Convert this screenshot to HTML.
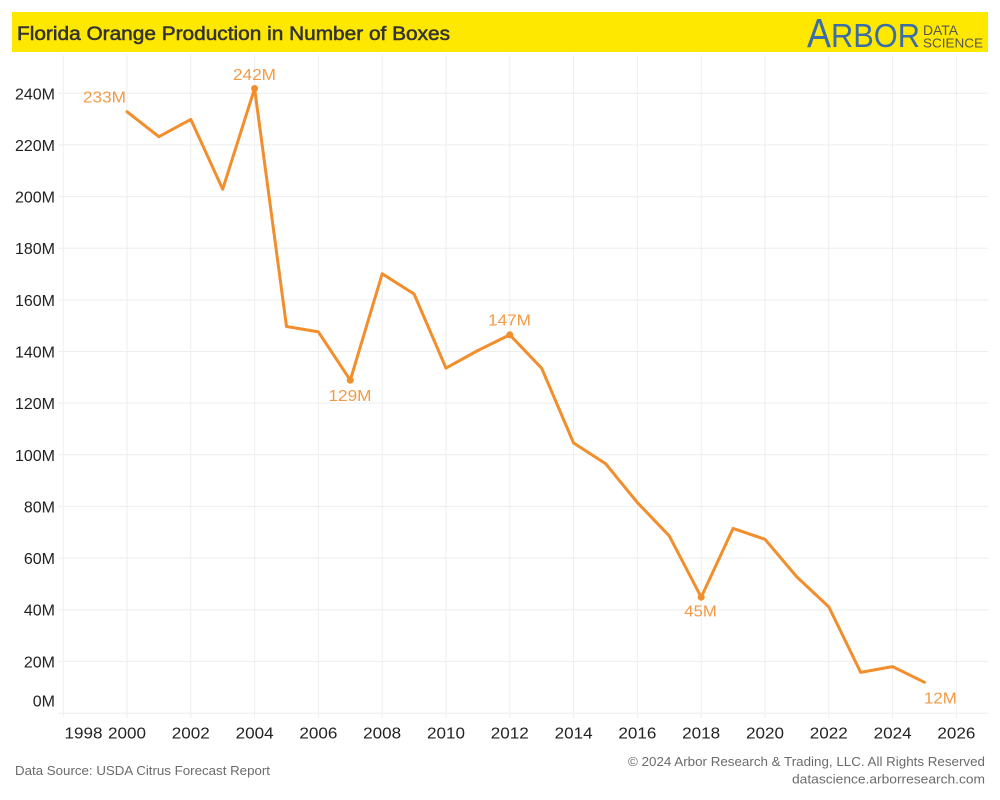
<!DOCTYPE html>
<html>
<head>
<meta charset="utf-8">
<style>
html,body{margin:0;padding:0;background:#fff;}
svg{display:block;}
text{font-family:"Liberation Sans",sans-serif;}
</style>
</head>
<body>
<svg width="1000" height="800" viewBox="0 0 1000 800" xmlns="http://www.w3.org/2000/svg">
<rect x="0" y="0" width="1000" height="800" fill="#fff"/>
<!-- header -->
<rect x="12" y="12" width="976" height="40" fill="#FFE800"/>
<text x="17" y="40" font-size="19.5" fill="#333" stroke="#333" stroke-width="0.55" textLength="433" lengthAdjust="spacingAndGlyphs">Florida Orange Production in Number of Boxes</text>
<text x="807" y="47" font-size="41" fill="#3B6EA8" textLength="24" lengthAdjust="spacingAndGlyphs">A</text>
<text x="831" y="47" font-size="33" fill="#3B6EA8" textLength="89" lengthAdjust="spacingAndGlyphs">RBOR</text>
<text x="923" y="35" font-size="13.5" fill="#555" textLength="35" lengthAdjust="spacingAndGlyphs">DATA</text>
<text x="923" y="47.5" font-size="13" fill="#555" textLength="60" lengthAdjust="spacingAndGlyphs">SCIENCE</text>

<!-- gridlines -->
<g stroke="#EEEEEE" stroke-width="1">
<line x1="63.3" y1="55" x2="63.3" y2="718"/>
<line x1="127" y1="55" x2="127" y2="718"/>
<line x1="190.8" y1="55" x2="190.8" y2="718"/>
<line x1="254.6" y1="55" x2="254.6" y2="718"/>
<line x1="318.4" y1="55" x2="318.4" y2="718"/>
<line x1="382.2" y1="55" x2="382.2" y2="718"/>
<line x1="446" y1="55" x2="446" y2="718"/>
<line x1="509.8" y1="55" x2="509.8" y2="718"/>
<line x1="573.6" y1="55" x2="573.6" y2="718"/>
<line x1="637.4" y1="55" x2="637.4" y2="718"/>
<line x1="701.2" y1="55" x2="701.2" y2="718"/>
<line x1="765" y1="55" x2="765" y2="718"/>
<line x1="828.8" y1="55" x2="828.8" y2="718"/>
<line x1="892.6" y1="55" x2="892.6" y2="718"/>
<line x1="956.4" y1="55" x2="956.4" y2="718"/>

<line x1="58" y1="93.3" x2="988" y2="93.3"/>
<line x1="58" y1="144.9" x2="988" y2="144.9"/>
<line x1="58" y1="196.6" x2="988" y2="196.6"/>
<line x1="58" y1="248.2" x2="988" y2="248.2"/>
<line x1="58" y1="299.9" x2="988" y2="299.9"/>
<line x1="58" y1="351.5" x2="988" y2="351.5"/>
<line x1="58" y1="403.1" x2="988" y2="403.1"/>
<line x1="58" y1="454.8" x2="988" y2="454.8"/>
<line x1="58" y1="506.4" x2="988" y2="506.4"/>
<line x1="58" y1="558.1" x2="988" y2="558.1"/>
<line x1="58" y1="609.7" x2="988" y2="609.7"/>
<line x1="58" y1="661.4" x2="988" y2="661.4"/>
<line x1="58" y1="713.3" x2="988" y2="713.3"/>
</g>

<!-- y labels -->
<g font-size="16" fill="#222" text-anchor="end">
<text x="55" y="99.3">240M</text>
<text x="55" y="150.9">220M</text>
<text x="55" y="202.6">200M</text>
<text x="55" y="254.2">180M</text>
<text x="55" y="305.9">160M</text>
<text x="55" y="357.5">140M</text>
<text x="55" y="409.1">120M</text>
<text x="55" y="460.8">100M</text>
<text x="55" y="512.4">80M</text>
<text x="55" y="564.1">60M</text>
<text x="55" y="615.7">40M</text>
<text x="55" y="667.4">20M</text>
<text x="55" y="706.7">0M</text>
</g>

<!-- x labels -->
<g font-size="16" fill="#222">
<text x="64.5" y="738.3" textLength="38" lengthAdjust="spacingAndGlyphs">1998</text>
<text x="108" y="738.3" textLength="38" lengthAdjust="spacingAndGlyphs">2000</text>
<text x="171.8" y="738.3" textLength="38" lengthAdjust="spacingAndGlyphs">2002</text>
<text x="235.6" y="738.3" textLength="38" lengthAdjust="spacingAndGlyphs">2004</text>
<text x="299.4" y="738.3" textLength="38" lengthAdjust="spacingAndGlyphs">2006</text>
<text x="363.2" y="738.3" textLength="38" lengthAdjust="spacingAndGlyphs">2008</text>
<text x="427" y="738.3" textLength="38" lengthAdjust="spacingAndGlyphs">2010</text>
<text x="490.8" y="738.3" textLength="38" lengthAdjust="spacingAndGlyphs">2012</text>
<text x="554.6" y="738.3" textLength="38" lengthAdjust="spacingAndGlyphs">2014</text>
<text x="618.4" y="738.3" textLength="38" lengthAdjust="spacingAndGlyphs">2016</text>
<text x="682.2" y="738.3" textLength="38" lengthAdjust="spacingAndGlyphs">2018</text>
<text x="746" y="738.3" textLength="38" lengthAdjust="spacingAndGlyphs">2020</text>
<text x="809.8" y="738.3" textLength="38" lengthAdjust="spacingAndGlyphs">2022</text>
<text x="873.6" y="738.3" textLength="38" lengthAdjust="spacingAndGlyphs">2024</text>
<text x="937.4" y="738.3" textLength="38" lengthAdjust="spacingAndGlyphs">2026</text>
</g>

<!-- series -->
<polyline fill="none" stroke="#F28E2B" stroke-width="3" stroke-linejoin="round" stroke-linecap="round"
points="127,111.7 158.9,136.7 190.8,119.4 222.7,189.2 254.6,88.5 286.5,326.5 318.4,331.9 350.3,380.2 382.2,273.8 414.1,294.0 446,368.1 477.9,350.5 509.8,334.8 541.7,368.3 573.6,443.0 605.5,463.6 637.4,502.6 669.3,535.9 701.2,597.2 733.1,528.4 765,539.3 796.9,577.0 828.8,606.9 860.7,672.4 892.6,666.6 924.5,682.3"/>
<g fill="#F28E2B">
<circle cx="254.6" cy="88.5" r="3.5"/>
<circle cx="350.3" cy="380.2" r="3.5"/>
<circle cx="509.8" cy="334.8" r="3.5"/>
<circle cx="701.2" cy="597.2" r="3.5"/>
</g>

<!-- data labels -->
<g font-size="16" fill="#F39A45">
<text x="83" y="102.3" textLength="43" lengthAdjust="spacingAndGlyphs">233M</text>
<text x="233" y="80" textLength="43" lengthAdjust="spacingAndGlyphs">242M</text>
<text x="328.5" y="401" textLength="43" lengthAdjust="spacingAndGlyphs">129M</text>
<text x="488" y="325.3" textLength="43" lengthAdjust="spacingAndGlyphs">147M</text>
<text x="684.3" y="616.7" textLength="32.5" lengthAdjust="spacingAndGlyphs">45M</text>
<text x="924" y="703.3" textLength="32.7" lengthAdjust="spacingAndGlyphs">12M</text>
</g>

<!-- footer -->
<text x="15" y="775" font-size="13" fill="#6B6B6B" textLength="255" lengthAdjust="spacingAndGlyphs">Data Source: USDA Citrus Forecast Report</text>
<text x="628" y="766" font-size="13" fill="#6B6B6B" textLength="357" lengthAdjust="spacingAndGlyphs">© 2024 Arbor Research &amp; Trading, LLC. All Rights Reserved</text>
<text x="792" y="783.5" font-size="13" fill="#6B6B6B" textLength="193" lengthAdjust="spacingAndGlyphs">datascience.arborresearch.com</text>
</svg>
</body>
</html>
